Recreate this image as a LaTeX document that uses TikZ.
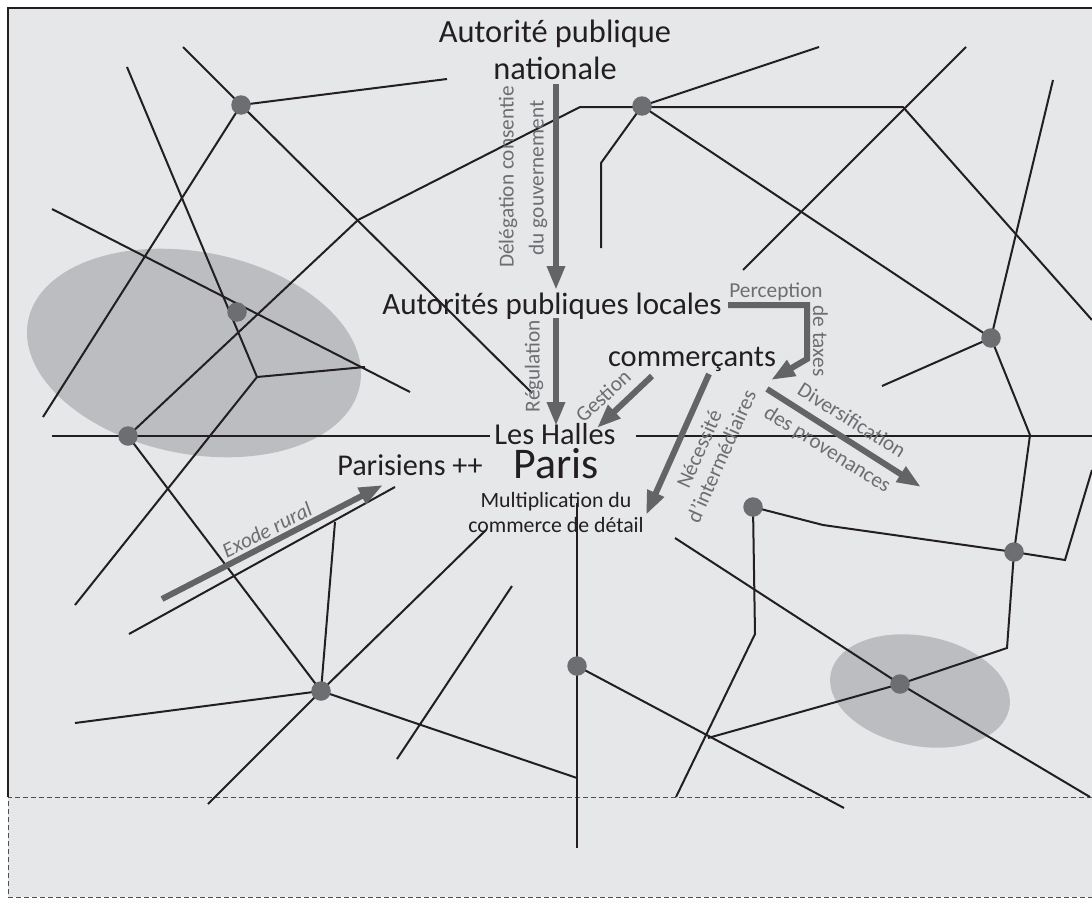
\documentclass[tikz,border=0pt]{standalone}
\usepackage{fontspec}
\setmainfont{Carlito}
\usetikzlibrary{arrows.meta}
\definecolor{bg}{RGB}{230,231,233}
\definecolor{ellg}{RGB}{188,189,192}
\definecolor{dotg}{RGB}{109,110,113}
\definecolor{arrg}{RGB}{99,100,102}
\definecolor{txtg}{RGB}{109,110,113}
\definecolor{ink}{RGB}{35,31,32}
\definecolor{dashg}{RGB}{80,80,82}
\begin{document}
\begin{tikzpicture}[x=1pt,y=-1pt,
  net/.style={draw=ink, line width=2pt, line join=miter},
  dot/.style={circle, fill=dotg, minimum size=19.5pt, inner sep=0pt},
  flow/.style={draw=arrg, line width=6pt, line join=miter, -{Triangle[length=24pt,width=17pt]}},
  lab/.style={text=txtg, font=\fontsize{21.3}{26}\selectfont, inner sep=0pt},
  bigtxt/.style={text=ink, font=\fontsize{31}{37}\selectfont, inner sep=0pt},
  smalltxt/.style={text=ink, font=\fontsize{21.8}{25}\selectfont, inner sep=0pt}]
\useasboundingbox (0,0) rectangle (1092,899);
\fill[bg] (8,8) rectangle (1092,897);
% ellipses
\fill[ellg, rotate around={-11:(194,353)}] (194,353) ellipse [x radius=169pt, y radius=101pt];
\fill[ellg, rotate around={-11:(920,691)}] (920,691) ellipse [x radius=91pt, y radius=55pt];
% frame
\draw[ink, line width=1.5pt] (8,797) -- (8,8) -- (1092,8);
\draw[dashg, line width=1pt, dash pattern=on 5pt off 3pt] (1092,797) -- (8,797) -- (8,897) -- (1092,897);
% junction coordinates
\coordinate (N1) at (241,105);
\coordinate (N2) at (237,312);
\coordinate (N3) at (128,436);
\coordinate (N4) at (642,106);
\coordinate (N5) at (991,338);
\coordinate (N6) at (1014,552);
\coordinate (N7) at (900,684);
\coordinate (N8) at (753,507);
\coordinate (N9) at (577,666);
\coordinate (N10) at (321,691);
\coordinate (Y) at (257,377);
% free ends / bends
\coordinate (a1) at (183,47);   \coordinate (a2) at (532,393);
\coordinate (a3) at (447,79);   \coordinate (a4) at (43,417);
\coordinate (a5) at (127,67);   \coordinate (a6) at (75,605);
\coordinate (a7) at (365,367);  \coordinate (a8) at (52,209);
\coordinate (a9) at (410,392);
\coordinate (b1) at (358,220);  \coordinate (b2) at (580,107);
\coordinate (b3) at (903,107);  \coordinate (b4) at (1092,320);
\coordinate (b5) at (819,47);   \coordinate (b6) at (601,163);
\coordinate (b7) at (601,248);  \coordinate (b8) at (966,47);
\coordinate (b9) at (743,270);  \coordinate (c1) at (1053,80);
\coordinate (c2) at (882,386);  \coordinate (c3) at (1030,435);
\coordinate (c4) at (1007,648); \coordinate (c5) at (708,738);
\coordinate (c6) at (823,525);  \coordinate (c7) at (1065,560);
\coordinate (c8) at (1092,470); \coordinate (c9) at (755,634);
\coordinate (d1) at (676,797);  \coordinate (d2) at (675,538);
\coordinate (d3) at (1090,797); \coordinate (d4) at (844,808);
\coordinate (d5) at (577,503);  \coordinate (d6) at (577,848);
\coordinate (d7) at (75,723);   \coordinate (d8) at (208,804);
\coordinate (d9) at (577,778);  \coordinate (e1) at (486,530);
\coordinate (e2) at (335,522);  \coordinate (e3) at (129,634);
\coordinate (e4) at (395,487);  \coordinate (e5) at (512,586);
\coordinate (e6) at (397,759);  \coordinate (e7) at (52,436);
\coordinate (e8) at (490,436);  \coordinate (e9) at (636,436);
\coordinate (f1) at (1092,436);
% network
\draw[net] (a1) -- (N1) -- (a2);
\draw[net] (N1) -- (a3);
\draw[net] (N1) -- (a4);
\draw[net] (a5) -- (Y) -- (a6);
\draw[net] (Y) -- (a7);
\draw[net] (a8) -- (a9);
\draw[net] (N3) -- (b1) -- (b2) -- (b3) -- (b4);
\draw[net] (N4) -- (b5);
\draw[net] (N4) -- (b6) -- (b7);
\draw[net] (N4) -- (N5);
\draw[net] (b8) -- (b9);
\draw[net] (c1) -- (N5);
\draw[net] (N5) -- (c2);
\draw[net] (N5) -- (c3) -- (N6) -- (c4) -- (N7) -- (c5);
\draw[net] (N8) -- (c6) -- (N6) -- (c7) -- (c8);
\draw[net] (N8) -- (c9) -- (d1);
\draw[net] (d2) -- (N7) -- (d3);
\draw[net] (N9) -- (d4);
\draw[net] (d5) -- (d6);
\draw[net] (N3) -- (N10);
\draw[net] (N10) -- (d7);
\draw[net] (N10) -- (d8);
\draw[net] (N10) -- (d9);
\draw[net] (N10) -- (e1);
\draw[net] (N10) -- (e2);
\draw[net] (e3) -- (e4);
\draw[net] (e5) -- (e6);
\draw[net] (e7) -- (e8);
\draw[net] (e9) -- (f1);
% dots
\foreach \n in {N1,N2,N3,N4,N5,N6,N7,N8,N9,N10} \node[dot] (dot\n) at (\n) {};
% black texts
\node[bigtxt, font=\fontsize{32.4}{38}\selectfont, anchor=base] (apn1) at (555,43) {Autorité publique};
\node[bigtxt, font=\fontsize{32.4}{38}\selectfont, anchor=base] (apn2) at (555,80) {nationale};
\node[bigtxt, anchor=base] (apl) at (552,314) {Autorités publiques locales};
\node[bigtxt, font=\fontsize{30.5}{36}\selectfont, anchor=base] (com) at (692,366) {commerçants};
\node[bigtxt, font=\fontsize{30.4}{36}\selectfont, anchor=base] (hal) at (555,444) {Les Halles};
\node[bigtxt, font=\fontsize{43.8}{50}\selectfont, anchor=base] (par) at (556,478) {Paris};
\node[bigtxt, font=\fontsize{30.2}{36}\selectfont, anchor=base] (pp) at (410,475) {Parisiens ++};
\node[smalltxt, anchor=base] (mul1) at (556,507) {Multiplication du};
\node[smalltxt, anchor=base] (mul2) at (556,532) {commerce de détail};
% arrows
\coordinate (g1) at (556,84);  \coordinate (g2) at (556,290);
\coordinate (r1) at (556,318); \coordinate (r2) at (556,426);
\coordinate (s1) at (652,376); \coordinate (s2) at (597,428);
\coordinate (i1) at (709,374); \coordinate (i2) at (646,515);
\coordinate (p1) at (728,305); \coordinate (p2) at (807,305);
\coordinate (p3) at (807,359); \coordinate (p4) at (771,380);
\coordinate (v1) at (767,389); \coordinate (v2) at (921,487);
\coordinate (x1) at (162,599); \coordinate (x2) at (383,485);
\draw[flow] (g1) -- (g2);
\draw[flow] (r1) -- (r2);
\draw[flow] (s1) -- (s2);
\draw[flow] (i1) -- (i2);
\draw[flow] (p1) -- (p2) -- (p3) -- (p4);
\draw[flow] (v1) -- (v2);
\draw[flow] (x1) -- (x2);
% gray labels
\node[lab, rotate=90] (del1) at (508,177) {Délégation consentie};
\node[lab, rotate=90] (del2) at (538,178) {du gouvernement};
\node[lab, rotate=90] (reg) at (534,366) {Régulation};
\node[lab, rotate=43] (ges) at (603,396) {Gestion};
\node[lab, anchor=base] (per) at (776,297) {Perception};
\node[lab, rotate=-90, anchor=base] (tax) at (813,341) {de taxes};
\node[lab, rotate=66] (nec1) at (699,449) {Nécessité};
\node[lab, rotate=66] (nec2) at (721,456) {d’intermédiaires};
\node[lab, rotate=-32] (div1) at (852,420) {Diversification};
\node[lab, rotate=-32] (div2) at (827,450) {des provenances};
\node[lab, rotate=27, font=\fontsize{21.3}{26}\selectfont\itshape] (exo) at (267,530) {Exode rural};
\end{tikzpicture}
\end{document}
